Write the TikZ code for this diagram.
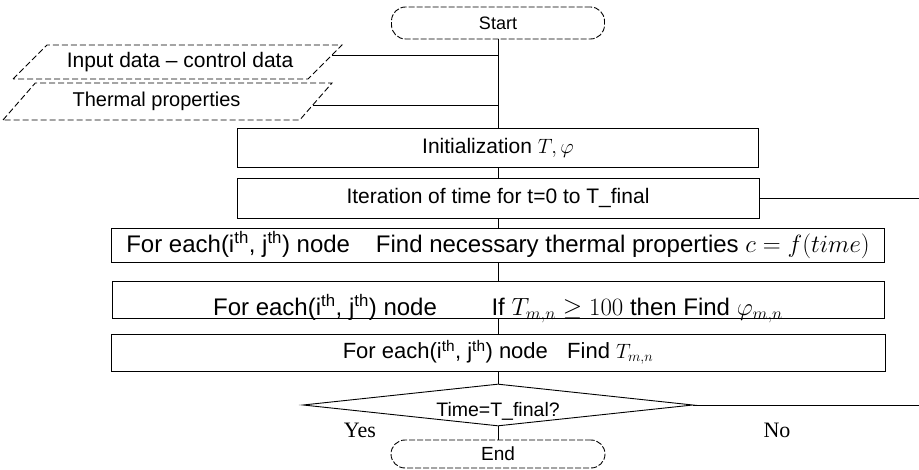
\documentclass[tikz,border=0pt]{standalone}
\usepackage{fontspec}
\setmainfont{Liberation Sans}
\newfontfamily\timesface{Liberation Serif}
\usetikzlibrary{shapes.geometric,calc}
\newcommand{\fs}[1]{\fontsize{#1}{#1}\selectfont}
\newcommand{\nth}[1]{#1\textsuperscript{th}}
\tikzset{
  procbox/.style={draw, rectangle, inner sep=0pt},
  termbox/.style={draw, dash pattern=on 6pt off 2pt, rectangle, rounded corners=14pt, inner sep=0pt},
  databox/.style={draw, dash pattern=on 6pt off 3pt, trapezium, trapezium left angle=30, trapezium right angle=150, trapezium stretches body, inner sep=0pt},
  testbox/.style={draw, diamond, shape aspect=9, inner sep=0pt},
  answer/.style={font=\timesface\fs{22}}
}
\begin{document}
\begin{tikzpicture}[x=1pt,y=-1pt,line width=0.9pt]
  \useasboundingbox (0,0) rectangle (919,470);
  \node[termbox, minimum width=213pt, minimum height=32pt, font=\fs{18}] (start) at (498,23) {Start};
  \node[databox, minimum width=329pt, minimum height=34pt, font=\fs{21}] (input) at (177.5,62) {Input data -- control data\hspace*{-5pt}};
  \node[databox, minimum width=329pt, minimum height=37pt, font=\fs{20}] (therm) at (167.5,101.5) {Thermal properties\hspace*{22pt}};
  \node[procbox, minimum width=521pt, minimum height=39pt, font=\fs{21}] (init) at (498,147.5) {Initialization $T, \varphi$};
  \node[procbox, minimum width=522pt, minimum height=40pt, font=\fs{21}] (iter) at (498,198) {Iteration of time for t=0 to T\_final};
  \node[procbox, minimum width=773pt, minimum height=34pt, font=\fs{24}] (each1) at (498,245) {For each(\nth{i}, \nth{j}) node\hspace{0.8em} Find necessary thermal properties $c = f(time)$};
  \node[procbox, minimum width=772pt, minimum height=37pt, text height=33pt, text depth=1pt, font=\fs{24}] (each2) at (498,299.5) {For each(\nth{i}, \nth{j}) node\hspace{2em} If $T_{m,n} \geq 100$ then Find $\varphi_{m,n}$};
  \node[procbox, minimum width=774pt, minimum height=37pt, font=\fs{22}] (each3) at (498,352.5) {For each(\nth{i}, \nth{j}) node\hspace{0.6em} Find $T_{m,n}$};
  \node[testbox, minimum width=390pt, minimum height=42pt, font=\fs{19.5}] (test) at (498,405) {\raisebox{-6pt}[\height][\depth]{Time=T\_final?}};
  \node[termbox, minimum width=214pt, minimum height=28pt, font=\fs{19}] (end) at (498,454) {End};
  \node[answer] (yes) at (360,430) {Yes};
  \node[answer] (no) at (777,430) {No};
  \coordinate (loop1) at (919,198);
  \coordinate (loop2) at (919,405);
  \draw
    (start)
    --
    (init);
  \draw
    ($(input.top right corner)!0.32!(input.bottom right corner)$) coordinate (in1)
    --
    (in1 -| start.south);
  \draw
    ($(therm.top right corner)!0.6!(therm.bottom right corner)$) coordinate (in2)
    --
    (in2 -| start.south);
  \draw
    (init)
    --
    (iter);
  \draw
    (iter)
    --
    (each1);
  \draw
    (each1)
    --
    (each2);
  \draw
    (each2)
    --
    (each3);
  \draw
    (each3)
    --
    (test);
  \draw
    (test)
    --
    (end);
  \draw
    (iter)
    --
    (loop1);
  \draw
    (test)
    --
    (loop2);
\end{tikzpicture}
\end{document}
